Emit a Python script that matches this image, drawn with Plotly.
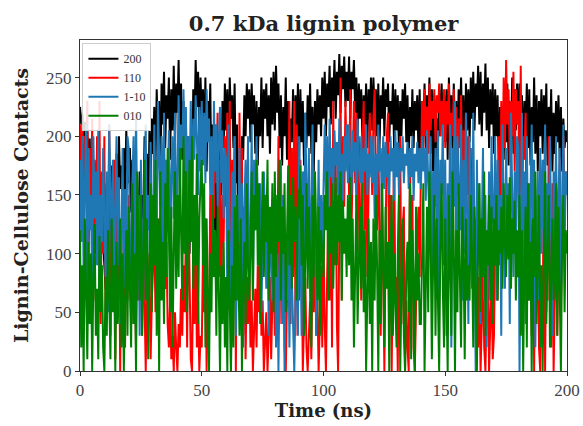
import plotly.graph_objects as go

time_ns = [i * 0.5 for i in range(401)]

s200 = [225,210,218,200,212,190,205,170,198,150,185,120,170,100,160,120,140,95,130,110,
        90,70,120,85,150,100,175,130,160,110,185,140,200,155,175,130,190,150,205,170,
        160,190,135,180,110,160,80,140,120,170,95,150,130,200,145,185,120,205,160,215,
        185,225,170,240,200,230,160,245,210,255,190,235,215,250,180,240,205,260,195,245,
        220,265,200,245,180,230,150,215,120,200,100,180,140,240,210,265,225,255,200,250,
        215,240,190,250,170,230,200,245,150,210,120,190,90,170,85,200,150,230,190,245,
        205,240,180,250,215,235,190,245,160,210,85,150,120,200,180,235,200,245,215,240,
        195,245,210,235,185,230,175,225,200,250,190,240,215,245,200,235,185,250,210,255,
        205,260,220,245,190,235,175,225,200,250,180,230,170,215,195,240,185,235,200,245,
        180,240,195,230,175,220,190,235,200,245,185,225,170,230,195,240,210,235,200,250,
        215,255,200,245,225,260,210,250,230,265,215,255,235,270,220,260,240,268,225,255,
        230,268,215,255,240,265,220,250,200,245,215,240,195,235,210,245,190,240,215,250,
        205,250,220,240,200,245,190,235,215,250,200,240,225,245,195,230,210,245,190,240,
        205,235,185,230,200,240,215,245,195,235,180,225,200,240,190,230,205,235,185,240,
        175,230,200,245,190,235,210,250,185,240,170,225,165,215,190,240,200,245,210,235,
        195,240,180,250,205,235,190,245,200,230,185,240,210,250,195,235,180,245,205,240,
        195,250,215,255,205,245,225,260,210,255,200,245,220,262,205,250,190,240,210,245,
        185,240,200,235,170,225,150,215,180,235,195,245,175,230,200,250,185,240,205,245,
        210,245,195,235,180,230,200,245,190,240,175,225,195,250,185,235,170,230,200,240,
        185,235,200,245,175,225,190,240,170,220,185,230,195,235,180,225,170,215,190,205,
        195]

s110 = [210,140,220,110,200,160,230,80,190,130,215,60,180,120,200,90,230,40,170,100,
        200,50,160,120,210,30,140,90,180,10,150,70,130,0,110,40,90,20,120,60,
        150,100,70,130,40,80,20,110,60,140,90,30,120,50,0,80,40,100,10,60,
        90,120,50,110,80,130,100,85,120,95,70,110,40,20,60,10,30,0,50,20,
        0,40,20,70,30,90,50,120,20,150,60,10,0,90,40,110,20,60,0,30,
        20,100,50,130,0,70,40,150,90,190,130,210,160,220,80,180,40,150,110,200,
        140,220,80,230,60,180,120,200,0,150,60,220,100,190,30,140,10,80,40,100,
        20,60,0,40,70,20,90,50,110,30,60,0,20,50,0,30,80,10,60,90,
        30,120,70,200,40,170,90,150,20,0,60,110,230,40,190,80,230,30,210,140,
        60,180,120,0,40,80,20,0,30,60,10,90,50,120,30,60,0,40,90,20,
        110,40,0,80,140,60,170,20,230,90,180,40,0,120,250,60,200,140,230,180,
        210,150,240,120,180,230,160,220,100,200,140,60,190,230,120,210,80,170,220,190,
        150,215,240,170,120,200,90,30,170,60,0,110,200,220,40,150,0,100,190,60,
        80,0,150,200,40,120,140,0,60,20,0,180,100,150,20,0,60,110,140,80,
        170,230,190,240,200,225,185,245,205,230,215,240,195,235,220,245,200,230,210,240,
        190,230,210,245,175,220,200,240,185,225,165,215,190,235,145,205,170,220,150,200,
        120,190,90,160,60,130,110,20,80,0,40,100,20,0,60,120,0,40,80,10,
        30,110,150,60,200,90,230,160,250,190,265,210,240,180,230,200,255,170,240,210,
        230,150,260,120,200,180,220,90,60,160,120,30,180,0,140,60,100,20,0,80,
        40,180,0,120,60,200,90,20,160,0,60,140,30,110,180,50,150,200,130,170,
        160]

s1m10 = [180,110,200,80,160,210,60,190,120,150,70,200,130,170,90,205,60,150,110,190,
         130,80,170,50,210,140,100,180,60,140,200,90,165,40,120,190,70,155,100,200,
         190,120,40,160,200,90,220,130,150,30,180,110,60,170,210,80,150,120,195,90,
         120,210,160,100,230,170,140,200,90,220,110,180,150,205,80,170,200,130,220,100,
         180,235,150,210,190,240,170,225,120,200,160,230,140,215,180,235,200,150,225,170,
         230,175,220,160,240,195,215,150,200,110,230,170,210,140,195,225,160,205,130,190,
         180,60,210,130,0,170,90,200,30,150,110,190,70,160,20,140,180,100,200,80,
         100,210,60,180,120,200,140,90,160,50,110,170,130,70,150,30,100,120,60,90,
         120,20,100,0,70,180,40,150,0,90,60,130,20,110,80,40,0,60,100,30,
         200,120,30,170,80,220,150,100,190,60,140,210,90,170,30,120,180,70,150,100,
         170,210,150,200,120,215,165,190,145,205,175,195,150,215,160,185,140,200,170,210,
         160,210,180,150,205,170,195,140,215,175,160,200,145,190,170,210,150,185,165,200,
         160,200,130,185,150,210,170,190,140,200,155,195,165,185,150,200,170,190,145,205,
         165,195,150,190,170,200,160,185,175,195,155,190,165,200,145,185,170,195,160,190,
         155,200,170,190,145,205,160,130,200,80,170,140,190,110,205,60,180,150,210,90,
         180,30,160,100,210,20,190,140,230,90,200,150,120,210,60,180,100,220,140,40,
         200,150,70,220,130,0,180,90,160,40,120,190,60,150,20,100,170,80,200,130,
         120,200,60,180,100,150,30,210,130,70,190,110,160,40,220,140,80,170,100,200,
         190,0,140,220,80,170,40,200,110,60,150,210,90,180,20,130,170,60,190,100,
         180,120,210,50,160,90,200,130,30,170,110,200,80,150,190,60,140,210,100,170,
         150]

s010 = [120,20,90,0,130,60,10,110,40,100,0,80,125,30,70,10,115,50,90,20,
        0,80,30,120,60,10,130,50,90,0,110,40,70,130,20,100,0,60,120,30,
        140,70,20,160,40,100,0,170,120,60,150,30,90,180,60,130,10,110,160,50,
        150,90,180,30,130,0,170,60,110,40,160,80,190,120,50,140,20,100,170,70,
        150,80,190,120,60,200,100,170,50,140,180,110,200,70,150,90,185,40,130,160,
        180,90,160,20,130,70,0,100,50,150,80,120,30,140,60,0,90,40,110,20,
        80,0,120,40,0,90,20,140,60,150,100,30,130,0,70,110,40,160,90,60,
        100,170,60,150,120,180,90,160,40,130,170,80,150,110,180,60,140,100,160,50,
        170,80,150,110,180,60,140,100,160,50,130,175,90,150,70,165,110,140,60,155,
        130,175,90,150,30,120,160,70,140,100,20,150,80,170,110,60,140,30,120,100,
        80,150,120,170,60,140,100,160,70,130,165,90,150,110,170,60,145,100,130,80,
        150,90,165,60,130,20,110,150,40,100,140,70,160,50,120,0,90,130,40,110,
        0,130,60,150,90,0,120,40,160,80,20,140,70,110,0,90,150,30,100,60,
        20,100,150,0,70,130,30,0,90,110,50,160,10,120,80,0,140,60,100,40,
        40,120,160,0,80,140,50,170,110,10,90,150,30,130,60,0,110,160,70,20,
        130,60,0,150,90,30,170,110,0,120,50,160,80,20,140,100,10,130,60,90,
        60,150,100,20,140,70,0,110,160,50,130,80,170,30,120,90,150,60,140,40,
        130,90,150,60,120,100,140,70,160,110,80,150,95,165,70,130,100,145,60,120,
        80,150,30,120,0,90,140,20,160,60,110,0,130,80,170,40,100,150,20,90,
        0,120,170,40,110,150,20,90,130,60,100,160,30,140,70,0,110,150,50,120,
        100]

series_names = ["200", "110", "1-10", "010"]
series_values = [s200, s110, s1m10, s010]
series_colors = ["#000000", "#ff0000", "#1f77b4", "#008000"]

serif = "DejaVu Serif"
tickserif = "Liberation Serif"

fig = go.Figure()
for name, vals, col in zip(series_names, series_values, series_colors):
    fig.add_trace(go.Scatter(x=time_ns[:len(vals)], y=vals, mode="lines", name=name,
                             line=dict(color=col, width=2)))

fig.update_layout(
    width=583, height=426,
    margin=dict(l=80, r=16, t=40, b=55, autoexpand=False),
    plot_bgcolor="white", paper_bgcolor="white",
    title=dict(text="<b>0.7 kDa lignin polymer</b>", x=0.555, xanchor="center",
               y=0.945, yanchor="middle",
               font=dict(family=serif, size=21, color="#222")),
    font=dict(family=serif, color="#333"),
    legend=dict(x=0.005, y=0.99, xanchor="left", yanchor="top",
                bgcolor="rgba(255,255,255,0.85)", bordercolor="#cccccc",
                borderwidth=1, font=dict(family=tickserif, size=12, color="#333"),
                itemwidth=30, tracegroupgap=0),
    showlegend=True,
)
fig.update_xaxes(range=[0, 200], tickvals=[0, 50, 100, 150, 200], automargin=False,
                 showgrid=False, zeroline=False, showline=True, mirror=True,
                 linecolor="#333", linewidth=1, ticks="outside", ticklen=4,
                 tickcolor="#333", tickfont=dict(family=tickserif, size=17, color="#444"),
                 title=dict(text="<b>Time (ns)</b>", standoff=4,
                            font=dict(family=serif, size=18, color="#222")))
fig.update_yaxes(range=[0, 282], tickvals=[0, 50, 100, 150, 200, 250], automargin=False,
                 showgrid=False, zeroline=False, showline=True, mirror=True,
                 linecolor="#333", linewidth=1, ticks="outside", ticklen=4,
                 tickcolor="#333", tickfont=dict(family=tickserif, size=17, color="#444"),
                 title=dict(text="<b>Lignin-Cellulose Contacts</b>", standoff=12,
                            font=dict(family=serif, size=19, color="#222")))

fig.write_html("out.html")
